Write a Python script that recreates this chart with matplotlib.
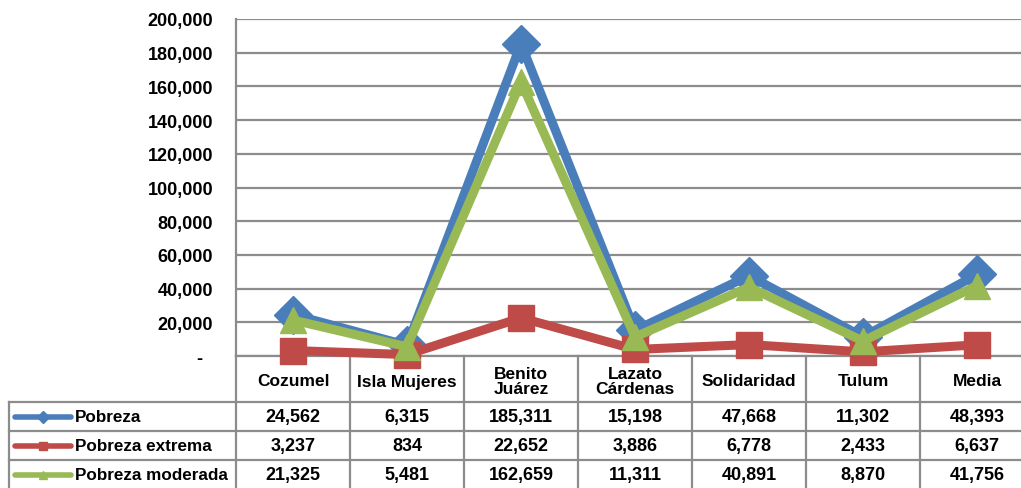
import matplotlib.pyplot as plt
from matplotlib.transforms import blended_transform_factory
from matplotlib.lines import Line2D

plt.rcParams['font.family'] = ['Liberation Sans', 'DejaVu Sans']
plt.rcParams['font.weight'] = 'bold'

categories = ['Cozumel', 'Isla Mujeres', 'Benito\nJuárez', 'Lazato\nCárdenas',
              'Solidaridad', 'Tulum', 'Media']
pobreza = [24562, 6315, 185311, 15198, 47668, 11302, 48393]
extrema = [3237, 834, 22652, 3886, 6778, 2433, 6637]
moderada = [21325, 5481, 162659, 11311, 40891, 8870, 41756]
series_names = ['Pobreza', 'Pobreza extrema', 'Pobreza moderada']
yticks = [0, 20000, 40000, 60000, 80000, 100000, 120000, 140000, 160000, 180000, 200000]

colors = ['#4a7ebb', '#be4b48', '#98b954']
markers = ['D', 's', '^']
grid_c = '#8c8c8c'

W, H = 1021, 489
fig = plt.figure(figsize=(W / 100, H / 100), dpi=100)
ax = fig.add_axes([236 / W, 1 - 357 / H, 798 / W, 337 / H])

xs = [i + 0.5 for i in range(len(categories))]
for vals, c, m in zip([pobreza, extrema, moderada], colors, markers):
    ax.plot(xs, vals, color=c, lw=6.5, marker=m, ms=19, mec=c, mfc=c,
            solid_joinstyle='miter', zorder=3, clip_on=False)

ax.set_xlim(0, len(categories))
ax.set_ylim(0, 200000)
ax.set_yticks(yticks)
ax.set_yticklabels([f'{v:,}' if v else '-  ' for v in yticks], fontsize=13,
                   fontweight='bold')
ax.tick_params(axis='y', length=0, pad=16.5)
ax.set_xticks([])
ax.grid(axis='y', color=grid_c, lw=1.6)
for s in ['top', 'right']:
    ax.spines[s].set_visible(False)
for s in ['left', 'bottom']:
    ax.spines[s].set_color(grid_c)
    ax.spines[s].set_linewidth(1.6)

# data table below the plot
tr = blended_transform_factory(ax.transData, ax.transAxes)
px = 1 / 337
row_y = [0, -46 * px, -75 * px, -104 * px, -140 * px]
left_x = (9 - 236) / 114
n = len(categories)

def hline(x0, x1, y):
    ax.add_line(Line2D([x0, x1], [y, y], transform=tr, color=grid_c, lw=1.6,
                       clip_on=False))

def vline(x, y0, y1):
    ax.add_line(Line2D([x, x], [y0, y1], transform=tr, color=grid_c, lw=1.6,
                       clip_on=False))

hline(left_x, n, row_y[1])
hline(left_x, n, row_y[2])
hline(left_x, n, row_y[3])
vline(left_x, row_y[1], row_y[4])
for i in range(n + 1):
    vline(i, row_y[0], row_y[4])

for i, cat in enumerate(categories):
    ax.text(i + 0.5, (row_y[0] + row_y[1]) / 2 - 2 * px, cat, transform=tr,
            ha='center', va='center', fontsize=12.5, fontweight='bold',
            linespacing=1.0)

for r, (name, vals, c, m) in enumerate(zip(series_names, [pobreza, extrema, moderada],
                                           colors, markers)):
    yc = (row_y[r + 1] + row_y[r + 2]) / 2 if r < 2 else (row_y[3] - 14.5 * px)
    ax.add_line(Line2D([left_x + 0.05, left_x + 0.54], [yc, yc], transform=tr,
                       color=c, lw=4, clip_on=False, solid_capstyle='round'))
    ax.add_line(Line2D([left_x + 0.295], [yc], transform=tr, color=c, marker=m,
                       ms=6, clip_on=False))
    ax.text(left_x + 0.58, yc, name, transform=tr, ha='left', va='center',
            fontsize=12.3, fontweight='bold')
    for i, v in enumerate(vals):
        ax.text(i + 0.5, yc, f'{v:,}', transform=tr, ha='center', va='center',
                fontsize=13, fontweight='bold')

fig.savefig('out.png', dpi=100)
